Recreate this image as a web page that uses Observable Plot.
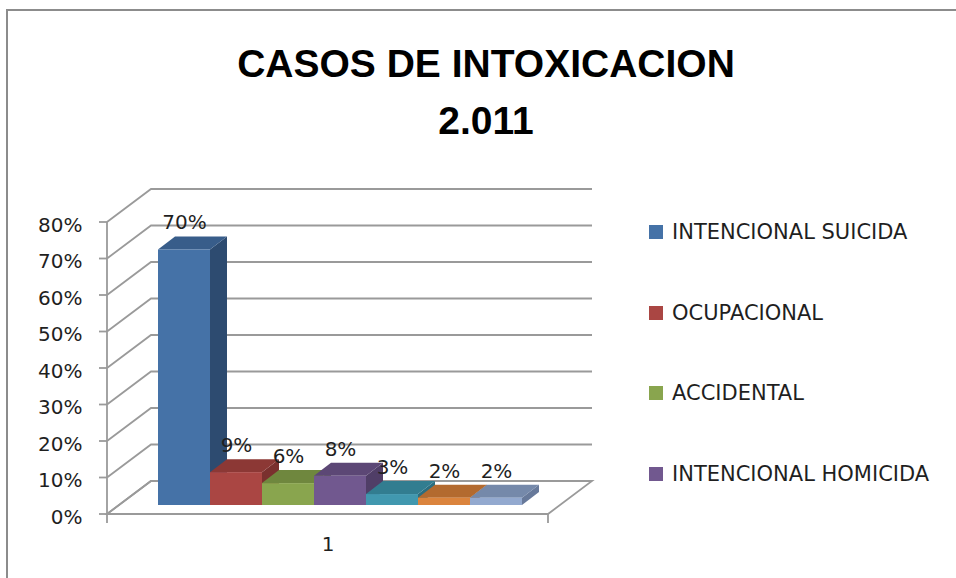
<!DOCTYPE html>
<html>
<head>
<meta charset="utf-8">
<script src="https://cdn.jsdelivr.net/npm/d3@7"></script>
<script src="https://cdn.jsdelivr.net/npm/@observablehq/plot@0.6"></script>
<style>
  html, body { margin: 0; padding: 0; background: #fff; overflow: hidden; }
  #wrap { position: relative; width: 956px; height: 578px; overflow: hidden; background: #fff; }
  #border { position: absolute; left: 6px; top: 9px; width: 1200px; height: 1200px; border: 2px solid #8c8c8c; box-sizing: border-box; }
  #title { position: absolute; left: 0; top: 35px; width: 972px; text-align: center;
           font: bold 39px "Liberation Sans", Arial, sans-serif; line-height: 57px; color: #000; }
  #chart { position: absolute; left: 0; top: 160px; }
  .item { position: absolute; left: 649px; height: 24px; display: flex; align-items: center;
          font: 21px "DejaVu Sans", sans-serif; color: #1f1f1f; white-space: nowrap; }
  .sw { width: 14px; height: 14px; margin-right: 9px; flex: none; }
</style>
</head>
<body>
<div id="wrap">
  <div id="border"></div>
  <div id="title">CASOS DE INTOXICACION<br>2.011</div>
  <div id="chart"></div>
  <div id="legend"></div>
</div>
<script>
// ---- data ----
const categories = ["1"];
const series = ["INTENCIONAL SUICIDA", "OCUPACIONAL", "ACCIDENTAL", "INTENCIONAL HOMICIDA", "SERIE 5", "SERIE 6", "SERIE 7"];
const values = [0.70, 0.09, 0.06, 0.08, 0.03, 0.02, 0.02];
const legendCount = 4; // only the first four entries are visible in the legend
const yTicks = [0, 0.1, 0.2, 0.3, 0.4, 0.5, 0.6, 0.7, 0.8];
const frontColors = ["#4572A7", "#AA4643", "#89A54E", "#71588F", "#4198AF", "#DB843D", "#93A9CF"];
const topColors   = ["#385D8A", "#8C3835", "#6F873E", "#5C4775", "#327D90", "#B36A2F", "#7589AA"];
const sideColors  = ["#2D4B70", "#7A302E", "#617735", "#503E67", "#2B6E80", "#9E5E2A", "#67799A"];

const rows = series.map((s, i) => ({cat: categories[0], serie: s, value: values[i]}));

// 3D projection (pixel offsets of the full floor depth and of the bars)
const DEPTH = {dx: 44, dy: -33};
const BAR0 = {dx: 12, dy: -9};   // front of the bars
const BARD = {dx: 17, dy: -13};  // bar depth
const grid = "#9a9a9a";

function frame3d(index, scales, values, dims) {
  const y = scales.y;
  const x0 = dims.marginLeft, x1 = dims.width - dims.marginRight;
  const g = d3.create("svg:g").attr("fill", "none").attr("stroke", grid).attr("stroke-width", 1.8);
  const y0 = y(0);
  g.append("path").attr("fill", "#fff")
    .attr("d", `M${x0},${y0}L${x1},${y0}L${x1 + DEPTH.dx},${y0 + DEPTH.dy}L${x0 + DEPTH.dx},${y0 + DEPTH.dy}Z`);
  for (const t of yTicks) {
    const yt = y(t);
    g.append("path").attr("d", `M${x0},${yt}L${x0 + DEPTH.dx},${yt + DEPTH.dy}L${x1 + DEPTH.dx},${yt + DEPTH.dy}`);
    g.append("path").attr("d", `M${x0 - 8},${yt}L${x0},${yt}`);
  }
  g.append("path").attr("d", `M${x0},${y(yTicks[yTicks.length - 1])}L${x0},${y0 + 9}`);
  g.append("path").attr("d", `M${x1},${y0}L${x1},${y0 + 9}`);
  return g.node();
}

function barFaces(i) {
  return (index, scales, values, dims) => {
    const {x, y} = scales;
    const d = rows[i];
    const bw = x.bandwidth();
    const xl = x(d.serie) + BAR0.dx, xr = xl + bw;
    const yt = y(d.value) + BAR0.dy, yb = y(0) + BAR0.dy;
    const g = d3.create("svg:g");
    g.append("path").attr("fill", sideColors[i])
      .attr("d", `M${xr},${yt}L${xr + BARD.dx},${yt + BARD.dy}L${xr + BARD.dx},${yb + BARD.dy}L${xr},${yb}Z`);
    g.append("path").attr("fill", topColors[i])
      .attr("d", `M${xl},${yt}L${xr},${yt}L${xr + BARD.dx},${yt + BARD.dy}L${xl + BARD.dx},${yt + BARD.dy}Z`);
    return g.node();
  };
}

const barMarks = rows.flatMap((d, i) => [
  barFaces(i),
  Plot.barY([d], {x: "serie", y: "value", fill: frontColors[i], dx: BAR0.dx, dy: BAR0.dy, insetLeft: 0, insetRight: 0})
]);

const pct = d3.format(".0%");

const chart = Plot.plot({
  width: 956,
  height: 418,
  marginLeft: 107,
  marginRight: 408,
  marginTop: 62,
  marginBottom: 64,
  style: {fontFamily: "'DejaVu Sans', sans-serif", fontSize: "20px", color: "#1f1f1f", background: "transparent", overflow: "visible"},
  x: {type: "band", domain: series, paddingInner: 0, paddingOuter: 0.74, axis: null},
  y: {domain: [0, 0.8], axis: null},
  marks: [
    frame3d,
    Plot.axisY({ticks: yTicks, tickFormat: pct, tickSize: 0, tickPadding: 25, dy: 3, fontSize: 20, label: null}),
    ...barMarks,
    Plot.text(rows, {x: "serie", y: "value", text: d => pct(d.value), dx: BAR0.dx, dy: -36, fontSize: 20, fill: "#1f1f1f"}),
    Plot.text(categories, {frameAnchor: "bottom", text: d => d, dy: 36, fontSize: 20, fill: "#1f1f1f"})
  ]
});
document.getElementById("chart").appendChild(chart);

// legend
const legend = document.getElementById("legend");
series.slice(0, legendCount).forEach((s, i) => {
  const it = document.createElement("div");
  it.className = "item";
  it.style.top = (220 + i * 80.5) + "px";
  const sw = document.createElement("span");
  sw.className = "sw";
  sw.style.background = frontColors[i];
  const tx = document.createElement("span");
  tx.textContent = s;
  it.appendChild(sw);
  it.appendChild(tx);
  legend.appendChild(it);
});
</script>
</body>
</html>
